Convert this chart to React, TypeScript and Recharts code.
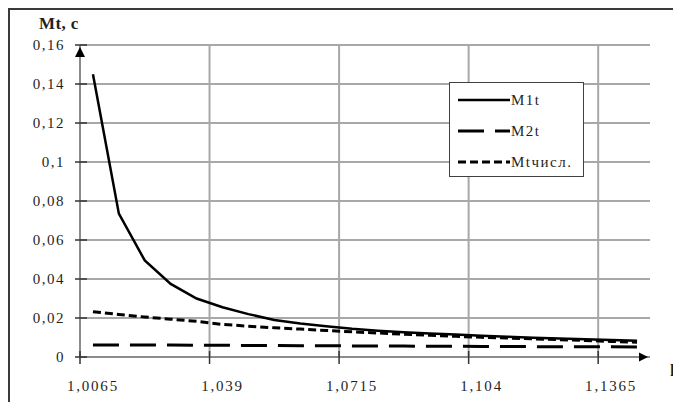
import React from 'react'
import {
  LineChart,
  Line,
  XAxis,
  YAxis,
  CartesianGrid,
  ReferenceLine,
  ReferenceDot,
} from 'recharts'

// categories (k) - Excel category axis, step 0.0065
const K = [
  1.0065, 1.013, 1.0195, 1.026, 1.0325, 1.039, 1.0455, 1.052, 1.0585, 1.065,
  1.0715, 1.078, 1.0845, 1.091, 1.0975, 1.104, 1.1105, 1.117, 1.1235, 1.13,
  1.1365, 1.143,
]
const STEP = 0.0065

const M1T = [
  0.145, 0.0735, 0.0495, 0.0375, 0.03, 0.0255, 0.022, 0.019, 0.0172, 0.0158,
  0.0145, 0.0135, 0.0127, 0.0121, 0.0115, 0.0109, 0.0104, 0.0099, 0.0095,
  0.0091, 0.0087, 0.0083,
]
const M2T = [
  0.0062, 0.0062, 0.0061, 0.0061, 0.006, 0.006, 0.0059, 0.0059, 0.0058, 0.0058,
  0.0057, 0.0056, 0.0056, 0.0055, 0.0055, 0.0054, 0.0054, 0.0053, 0.0053,
  0.0052, 0.0052, 0.0051,
]
const MT_NUM = [
  0.0232, 0.0218, 0.0205, 0.0194, 0.0183, 0.0167, 0.0158, 0.015, 0.0143,
  0.0136, 0.0129, 0.0123, 0.0117, 0.0111, 0.0106, 0.0101, 0.0097, 0.0093,
  0.0089, 0.0085, 0.008, 0.0076,
]

const SERIES_NAMES = ['M1t', 'M2t', 'Mtчисл.']
const Y_TICKS = [0, 0.02, 0.04, 0.06, 0.08, 0.1, 0.12, 0.14, 0.16]
const Y_LABELS = ['0', '0,02', '0,04', '0,06', '0,08', '0,1', '0,12', '0,14', '0,16']
const X_LABEL_KS = [1.0065, 1.039, 1.0715, 1.104, 1.1365]
const X_LABELS = ['1,0065', '1,039', '1,0715', '1,104', '1,1365']
const Y_TITLE = 'Mt, c'
const X_TITLE = 'k'

const data = K.map((k, i) => ({ k, m1: M1T[i], m2: M2T[i], mt: MT_NUM[i] }))

const X_MIN = K[0] - STEP / 2
const X_MAX = K[K.length - 1] + STEP / 2
// tick marks / gridlines sit on category boundaries, every 5 categories
const BOUNDARIES = X_LABEL_KS.map((k) => k - STEP / 2)

const FONT = '"Liberation Serif", "Times New Roman", serif'
const TEXT = '#1f1f1f'
const GRID = '#a8a8a8'
const AXIS = '#8c8c8c'

const idxOf = (arr: number[], v: number) =>
  arr.findIndex((a) => Math.abs(a - v) < 1e-9)

const YTick = (props: any) => {
  const { x, y, payload } = props
  const i = idxOf(Y_TICKS, payload.value)
  return (
    <g>
      <line x1={x - 5} x2={x + 7} y1={y} y2={y} stroke="#333" strokeWidth={1.5} />
      <text
        x={x - 15}
        y={y}
        dy="0.35em"
        textAnchor="end"
        fill={TEXT}
        style={{ fontFamily: FONT, fontSize: 15, letterSpacing: 1.5 }}
      >
        {Y_LABELS[i]}
      </text>
    </g>
  )
}

const XLabelTick = (props: any) => {
  const { x, y, payload } = props
  const i = idxOf(X_LABEL_KS, payload.value)
  return (
    <text
      x={x}
      y={y + 29}
      dy="0.35em"
      textAnchor="middle"
      fill={TEXT}
      style={{ fontFamily: FONT, fontSize: 15, letterSpacing: 1.8 }}
    >
      {X_LABELS[i]}
    </text>
  )
}

const XMarkTick = (props: any) => {
  const { x, y } = props
  return <line x1={x} x2={x} y1={y - 7} y2={y + 6} stroke="#333" strokeWidth={1.5} />
}

const LegendSample = ({ dash, width }: { dash?: string; width: number }) => (
  <svg width={52} height={8} style={{ display: 'block' }}>
    <line x1={0} x2={52} y1={4} y2={4} stroke="#000" strokeWidth={width} strokeDasharray={dash} />
  </svg>
)

const LEGEND_STYLES = [
  { dash: undefined, width: 2.5 },
  { dash: '26 11', width: 3 },
  { dash: '8 4', width: 3 },
]

export default function App() {
  return (
    <div style={styles.frame}>
      <LineChart
        width={671}
        height={400}
        data={data}
        margin={{ top: 35, right: 31, bottom: 51, left: 69 }}
      >
        <CartesianGrid vertical={false} stroke={GRID} strokeWidth={2} />
        {BOUNDARIES.slice(1).map((b) => (
          <ReferenceLine key={b} x={b} stroke={GRID} strokeWidth={2} />
        ))}
        <XAxis
          type="number"
          dataKey="k"
          domain={[X_MIN, X_MAX]}
          allowDataOverflow
          ticks={X_LABEL_KS}
          interval={0}
          height={1}
          tickSize={0}
          tickMargin={0}
          tickLine={false}
          axisLine={{ stroke: AXIS, strokeWidth: 2 }}
          tick={<XLabelTick />}
        />
        <XAxis
          xAxisId="marks"
          type="number"
          dataKey="k"
          domain={[X_MIN, X_MAX]}
          allowDataOverflow
          ticks={BOUNDARIES}
          interval={0}
          height={1}
          tickSize={0}
          tickMargin={0}
          tickLine={false}
          axisLine={false}
          tick={<XMarkTick />}
        />
        <YAxis
          domain={[0, 0.16]}
          ticks={Y_TICKS}
          interval={0}
          width={1}
          tickSize={0}
          tickMargin={0}
          tickLine={false}
          axisLine={{ stroke: AXIS, strokeWidth: 2 }}
          tick={<YTick />}
        />
        <Line
          dataKey="m2"
          name={SERIES_NAMES[1]}
          type="linear"
          stroke="#000"
          strokeWidth={3}
          strokeDasharray="26 11"
          dot={false}
          isAnimationActive={false}
        />
        <Line
          dataKey="mt"
          name={SERIES_NAMES[2]}
          type="linear"
          stroke="#000"
          strokeWidth={3}
          strokeDasharray="8 4"
          dot={false}
          isAnimationActive={false}
        />
        <Line
          dataKey="m1"
          name={SERIES_NAMES[0]}
          type="linear"
          stroke="#000"
          strokeWidth={2.5}
          dot={false}
          isAnimationActive={false}
        />
        <ReferenceDot
          x={X_MIN}
          y={0.16}
          ifOverflow="visible"
          shape={(p: any) => (
            <path d={`M${p.cx},${p.cy + 2} l-5,10 l10,0 z`} fill="#000" />
          )}
        />
        <ReferenceDot
          x={X_MAX}
          y={0}
          ifOverflow="visible"
          shape={(p: any) => (
            <path d={`M${p.cx - 2},${p.cy} l-9,-4.5 l0,9 z`} fill="#000" />
          )}
        />
      </LineChart>

      <div style={styles.yTitle}>{Y_TITLE}</div>
      <div style={styles.xTitle}>{X_TITLE}</div>

      <div style={styles.legend}>
        {SERIES_NAMES.map((name, i) => (
          <div key={name} style={{ ...styles.legendRow, top: 9 + i * 31 }}>
            <LegendSample dash={LEGEND_STYLES[i].dash} width={LEGEND_STYLES[i].width} />
            <span style={styles.legendText}>{name}</span>
          </div>
        ))}
      </div>
    </div>
  )
}

const styles: Record<string, React.CSSProperties> = {
  frame: {
    position: 'relative',
    width: 671,
    height: 392,
    borderTop: '2px solid #3a3a3a',
    borderLeft: '2px solid #3a3a3a',
    background: '#fff',
    overflow: 'hidden',
  },
  yTitle: {
    position: 'absolute',
    left: 29,
    top: 6,
    lineHeight: '16px',
    fontFamily: FONT,
    fontWeight: 700,
    fontSize: 17,
    letterSpacing: 0.4,
    color: TEXT,
  },
  xTitle: {
    position: 'absolute',
    left: 660,
    top: 353,
    lineHeight: '16px',
    fontFamily: FONT,
    fontWeight: 700,
    fontSize: 17,
    color: TEXT,
  },
  legend: {
    position: 'absolute',
    left: 439,
    top: 72,
    width: 135,
    height: 95,
    boxSizing: 'border-box',
    border: '1.5px solid #404040',
    background: '#fff',
  },
  legendRow: {
    position: 'absolute',
    left: 8,
    height: 16,
    display: 'flex',
    alignItems: 'center',
  },
  legendText: {
    marginLeft: 1,
    fontFamily: FONT,
    fontSize: 15,
    letterSpacing: 1.5,
    color: TEXT,
    lineHeight: '16px',
    whiteSpace: 'nowrap',
  },
}
